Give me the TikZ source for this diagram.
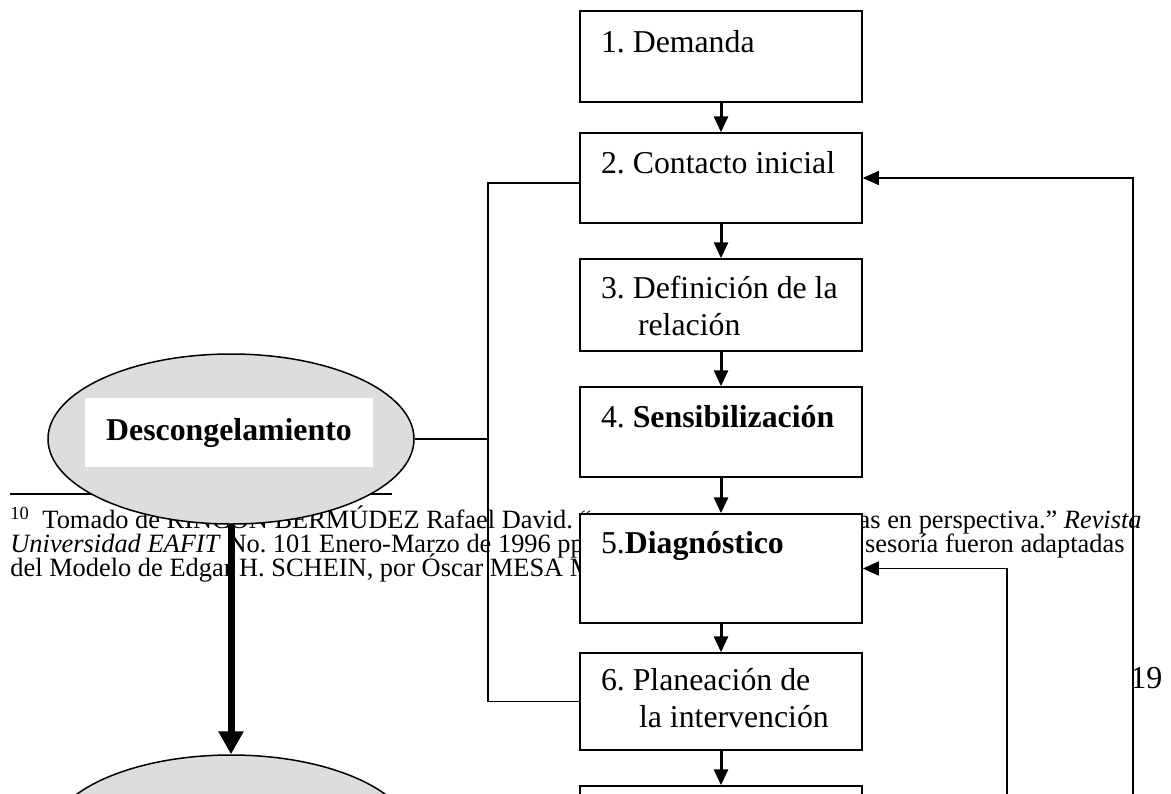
\documentclass[tikz,border=0pt]{standalone}
\usepackage{fontspec}
\setmainfont{Liberation Serif}
\usepackage{tikz}
\usetikzlibrary{shapes.geometric, arrows.meta}
\definecolor{ovalgray}{RGB}{221,221,221}
\tikzstyle{stage} = [draw, fill=white, line width=0.75pt, minimum width=141pt, inner xsep=10.5pt, inner ysep=0pt, font=\fontsize{15.9}{18.5}\selectfont]
\tikzstyle{phase} = [ellipse, draw, fill=ovalgray, line width=0.75pt, minimum width=183pt, minimum height=85pt]
\tikzstyle{arrow} = [line width=1.5pt, -{Triangle[width=7pt,length=8pt]}]
\tikzstyle{back} = [line width=0.75pt, -{Triangle[width=7pt,length=8pt]}]
\tikzstyle{fat} = [line width=3.5pt, -{Triangle[width=12pt,length=11.5pt]}]
\tikzstyle{link} = [line width=0.75pt]
\tikzstyle{note} = [inner sep=0pt, anchor=base west, font=\fontsize{13.2}{12.5}\selectfont]
\newcommand{\boxtext}[1]{\parbox[t]{120pt}{\raggedright #1}}
\frenchspacing

\begin{document}
\begin{tikzpicture}[x=0.5pt, y=-0.5pt]
    \clip (0,0) rectangle (1171,793);

    % footnote
    \draw[line width=0.6pt] (10,494) -- (392,494);
    \node[note] (fn1) at (10,528) {\textsuperscript{10}\hspace{3pt} Tomado de RINCÓN BERMÚDEZ Rafael David. “};
    \node[note] (fn2) at (10,552) {\textit{Universidad EAFIT} No. 101 Enero-Marzo de 1996 pp};
    \node[note] (fn3) at (10,576) {del Modelo de Edgar H. SCHEIN, por Óscar MESA M};
    \node[note, anchor=base east] (fn1r) at (1142,528) {as en perspectiva.” \textit{Revista}};
    \node[note, anchor=base east] (fn2r) at (1125,552) {sesoría fueron adaptadas};
    \node[inner sep=0pt, anchor=base west, font=\fontsize{16}{18}\selectfont] (page) at (1130,688) {19};

    % phases
    \node[phase] (thaw) at (231,439) {};
    \node[fill=white, minimum width=144pt, minimum height=34.5pt, font=\bfseries\fontsize{15.9}{18}\selectfont] (thawtext) at (229,432.5) {Descongelamiento};
    \node[phase] (move) at (231,840) {};

    % stages
    \node[stage, text height=20.5pt, text depth=25pt] (d1) at (721,56.5) {\boxtext{1. Demanda}};
    \node[stage, text height=20pt, text depth=25pt] (d2) at (721,178) {\boxtext{2. Contacto inicial}};
    \node[stage, text height=19.5pt, text depth=26.5pt] (d3) at (721,305) {\boxtext{3. Definición de la\\\hspace*{18.5pt}relación}};
    \node[stage, text height=20pt, text depth=25pt] (d4) at (721,432) {\boxtext{4. \textbf{Sensibilización}}};
    \node[stage, text height=19.5pt, text depth=35pt] (d5) at (721,568.5) {\boxtext{5.\textbf{Diagnóstico}}};
    \node[stage, text height=18.5pt, text depth=30pt] (d6) at (721,701.5) {\boxtext{6. Planeación de\\\hspace*{19pt}la intervención}};
    \node[stage, text height=20pt, text depth=25.5pt] (d7) at (721,831.5) {};

    \coordinate (brace) at (488,439);
    \coordinate (loopa) at (1133,800);
    \coordinate (loopb) at (1007,800);

    \draw[arrow] (d1) -- (d2);
    \draw[arrow] (d2) -- (d3);
    \draw[arrow] (d3) -- (d4);
    \draw[arrow] (d4) -- (d5);
    \draw[arrow] (d5) -- (d6);
    \draw[arrow] (d6) -- (d7);

    \draw[link] (thaw) -- (brace);
    \draw[link] ([yshift=-2.5pt]d2.west) -| (brace) |- (d6.west);
    \draw[fat] (thaw) -- (move);

    \draw[back] (loopa) |- (d2);
    \draw[back] (loopb) |- (d5);
\end{tikzpicture}
\end{document}
